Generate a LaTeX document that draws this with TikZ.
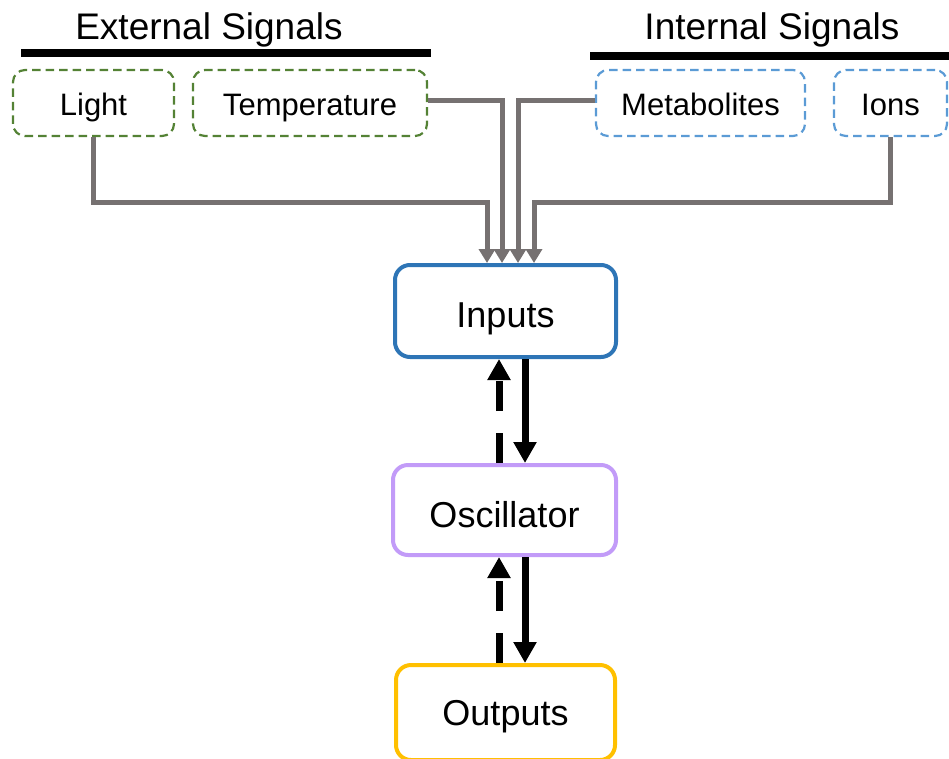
\documentclass[tikz,border=0pt]{standalone}
\usepackage{fontspec}
\setmainfont{Liberation Sans}
\usetikzlibrary{arrows.meta}
\definecolor{conngray}{HTML}{767171}
\definecolor{extgreen}{HTML}{548235}
\definecolor{intblue}{HTML}{5B9BD5}
\definecolor{inblue}{HTML}{2E75B6}
\definecolor{oscpurple}{HTML}{C29BF8}
\definecolor{outorange}{HTML}{FFC000}
\tikzset{
  title/.style={anchor=base, font=\fontsize{37}{41}\selectfont, inner sep=0pt},
  bar/.style={line width=7.5pt, black},
  sigbox/.style={draw, line width=2.2pt, dash pattern=on 8.5pt off 5pt, rounded corners=12pt,
    minimum height=66pt, inner sep=0pt, font=\fontsize{31}{35}\selectfont,
    text height=24pt, text depth=0pt},
  extbox/.style={sigbox, draw=extgreen, text=black},
  intbox/.style={sigbox, draw=intblue, text=black},
  mainbox/.style={draw, line width=4pt, rounded corners=15pt, inner sep=0pt,
    minimum width=221pt, font=\fontsize{36}{40}\selectfont, text depth=0pt, text=black},
  conn/.style={conngray, line width=5pt, -{Triangle[length=14pt,width=16pt]}},
  fwd/.style={black, line width=7pt, -{Triangle[length=21pt,width=22pt]}},
  back/.style={black, line width=7pt, dash pattern=on 30pt off 22pt, -{Triangle[length=21pt,width=22pt]}},
}
\begin{document}
\begin{tikzpicture}[x=1pt,y=-1pt]
\useasboundingbox (0,0) rectangle (949,758);
% titles
\node[title] (exttitle) at (209,39) {External Signals};
\node[title] (inttitle) at (772,39) {Internal Signals};
\coordinate (eb1) at (21,53); \coordinate (eb2) at (431,53);
\coordinate (ib1) at (590,56); \coordinate (ib2) at (952,56);
\draw[bar] (eb1) -- (eb2);
\draw[bar] (ib1) -- (ib2);
% signal boxes
\node[extbox, minimum width=161pt] (light) at (93.5,103) {Light};
\node[extbox, minimum width=234pt] (temp) at (310,103) {Temperature};
\node[intbox, minimum width=209pt] (metab) at (700.5,103) {Metabolites};
\node[intbox, minimum width=113pt] (ions) at (890.5,103) {Ions};
% main boxes
\node[mainbox, draw=inblue, minimum height=92pt, text height=32pt] (inputs) at (505.5,311) {Inputs};
\node[mainbox, draw=oscpurple, minimum width=223pt, minimum height=90pt, text height=34pt] (osc) at (504.5,510) {Oscillator};
\node[mainbox, draw=outorange, minimum width=219pt, minimum height=95pt, text height=25pt] (outputs) at (505.5,712.5) {Outputs};
% connectors from signals
\coordinate (c1) at (487,202);
\coordinate (c2) at (502,100);
\coordinate (c3) at (518,100);
\coordinate (c4) at (534,202);
\draw[conn] (light.south) |- (c1) -- (c1 |- inputs.north);
\draw[conn] ([yshift=3pt]temp.east) -| (c2 |- inputs.north);
\draw[conn] ([yshift=3pt]metab.west) -| (c3 |- inputs.north);
\draw[conn] (ions.south) |- (c4) -- (c4 |- inputs.north);
% feedback arrows
\coordinate (ua) at (499,0);
\coordinate (da) at (525,0);
\draw[back] (ua |- osc.north) -- (ua |- inputs.south);
\draw[fwd] (da |- inputs.south) -- (da |- osc.north);
\draw[back] (ua |- outputs.north) -- (ua |- osc.south);
\draw[fwd] (da |- osc.south) -- (da |- outputs.north);
\end{tikzpicture}
\end{document}
